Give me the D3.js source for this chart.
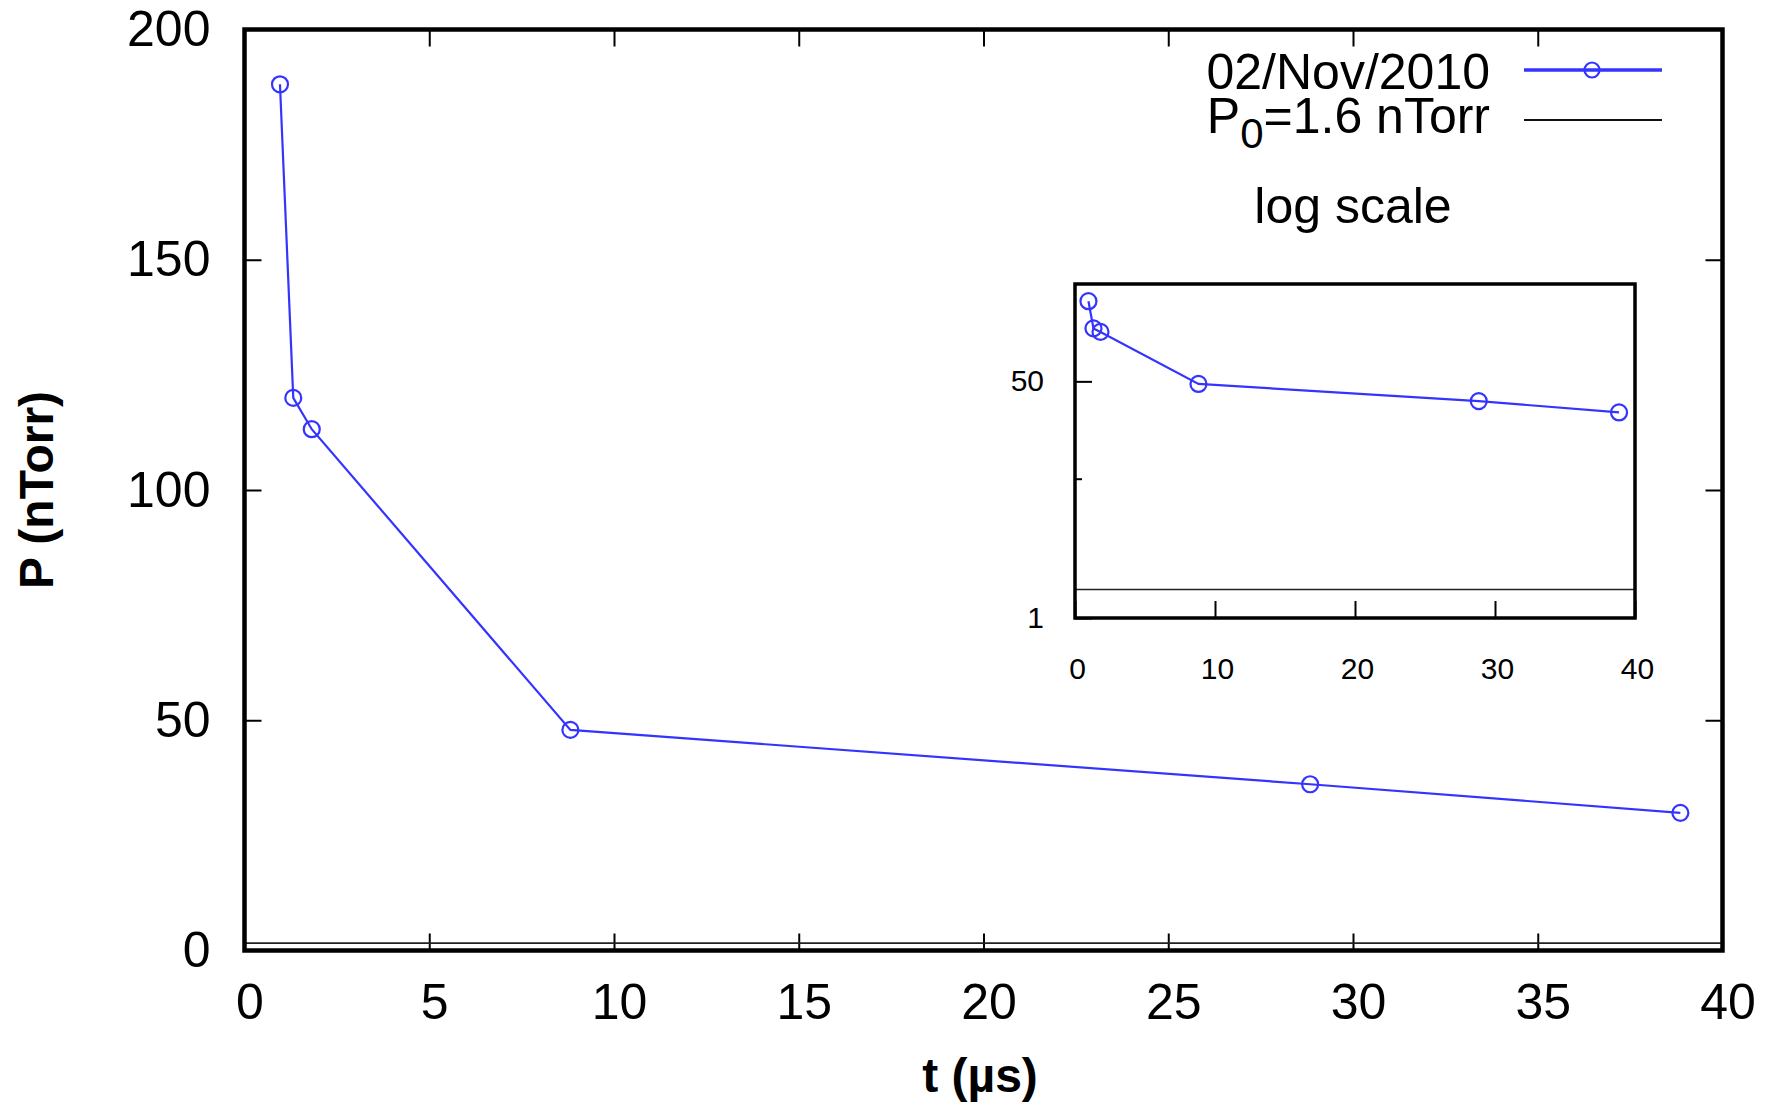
<!DOCTYPE html>
<html>
<head>
<meta charset="utf-8">
<script src="https://cdn.jsdelivr.net/npm/d3@7/dist/d3.min.js"></script>
<style>
  html, body { margin: 0; padding: 0; background: #fff; }
  svg { display: block; font-family: "Liberation Sans", Arial, Helvetica, sans-serif; }
  .tick line { stroke: #000; stroke-width: 2px; }
</style>
</head>
<body>
<svg id="chart" width="1777" height="1107"></svg>
<script>
// Pressure decay measurement (02/Nov/2010)
const times = [0.96, 1.32, 1.82, 8.82, 28.84, 38.86];      // t (µs)
const pressures = [188.1, 120.0, 113.2, 47.9, 36.1, 29.9];  // P (nTorr)
const baseP0 = 1.6;                                          // base pressure P0 (nTorr)

const xTicks = [0, 5, 10, 15, 20, 25, 30, 35, 40];
const yTicks = [0, 50, 100, 150, 200];
const insetXTicks = [0, 10, 20, 30, 40];
const insetYTicks = [1, 10, 50];
const insetYLabels = ["1", "", "50"];

const seriesName = "02/Nov/2010";
const blue = "#3434ff";

const points = times.map((t, i) => ({ t, p: pressures[i] }));

const svg = d3.select("#chart");
svg.append("rect").attr("width", 1777).attr("height", 1107).attr("fill", "#fff");

// ---------- main panel ----------
const M = { left: 244.5, right: 1722.5, top: 29.5, bottom: 950.5 };
const x = d3.scaleLinear().domain([0, 40]).range([M.left, M.right]);
const y = d3.scaleLinear().domain([0, 200]).range([M.bottom, M.top]);

const gBottom = svg.append("g").attr("transform", `translate(0,${M.bottom})`)
  .call(d3.axisBottom(x).tickValues(xTicks).tickSize(-17).tickSizeOuter(0).tickPadding(33));
const gLeft = svg.append("g").attr("transform", `translate(${M.left},0)`)
  .call(d3.axisLeft(y).tickValues(yTicks).tickSize(-17).tickSizeOuter(0).tickPadding(34));
svg.append("g").attr("transform", `translate(0,${M.top})`)
  .call(d3.axisTop(x).tickValues(xTicks).tickSize(-17).tickSizeOuter(0).tickFormat(""));
svg.append("g").attr("transform", `translate(${M.right},0)`)
  .call(d3.axisRight(y).tickValues(yTicks).tickSize(-17).tickSizeOuter(0).tickFormat(""));

svg.selectAll(".domain").remove();
[gBottom, gLeft].forEach(g => g.selectAll("text")
  .attr("font-size", 50).attr("fill", "#000")
  .attr("font-family", "Liberation Sans, Arial, sans-serif"));
gBottom.selectAll("text").attr("dx", 5);

// base pressure reference line
svg.append("line")
  .attr("x1", M.left).attr("x2", M.right)
  .attr("y1", y(baseP0)).attr("y2", y(baseP0))
  .attr("stroke", "#222").attr("stroke-width", 1.6);

// series
const line = d3.line().x(d => x(d.t)).y(d => y(d.p));
svg.append("path").datum(points)
  .attr("d", line).attr("fill", "none")
  .attr("stroke", blue).attr("stroke-width", 2.2);
svg.append("g").selectAll("circle").data(points).join("circle")
  .attr("cx", d => x(d.t)).attr("cy", d => y(d.p)).attr("r", 8)
  .attr("fill", "none").attr("stroke", blue).attr("stroke-width", 2.2);

// frame
svg.append("rect")
  .attr("x", M.left).attr("y", M.top)
  .attr("width", M.right - M.left).attr("height", M.bottom - M.top)
  .attr("fill", "none").attr("stroke", "#000").attr("stroke-width", 4.5);

// axis titles
svg.append("text")
  .attr("transform", `translate(53,${(M.top + M.bottom) / 2}) rotate(-90)`)
  .attr("text-anchor", "middle").attr("font-size", 48).attr("font-weight", "bold")
  .text("P (nTorr)");
svg.append("text")
  .attr("x", 980).attr("y", 1092)
  .attr("text-anchor", "middle").attr("font-size", 48).attr("font-weight", "bold")
  .text("t (µs)");

// legend
const legend = svg.append("g");
legend.append("text").attr("x", 1490).attr("y", 89)
  .attr("text-anchor", "end").attr("font-size", 50).text(seriesName);
legend.append("line").attr("x1", 1524).attr("x2", 1662).attr("y1", 70).attr("y2", 70)
  .attr("stroke", blue).attr("stroke-width", 3.5);
legend.append("circle").attr("cx", 1592).attr("cy", 70).attr("r", 7.5)
  .attr("fill", "none").attr("stroke", blue).attr("stroke-width", 2.2);

const p0Text = legend.append("text").attr("x", 1490).attr("y", 133)
  .attr("text-anchor", "end").attr("font-size", 50);
p0Text.append("tspan").text("P");
p0Text.append("tspan").attr("font-size", 42).attr("dy", 15).text("0");
p0Text.append("tspan").attr("dy", -15).text("=" + baseP0 + " nTorr");
legend.append("line").attr("x1", 1524).attr("x2", 1662).attr("y1", 120).attr("y2", 120)
  .attr("stroke", "#111").attr("stroke-width", 2);

svg.append("text").attr("x", 1353).attr("y", 223)
  .attr("text-anchor", "middle").attr("font-size", 50).text("log scale");

// ---------- inset (log scale) ----------
const I = { left: 1075, right: 1635, top: 284, bottom: 618 };
const xi = d3.scaleLinear().domain([0, 40]).range([I.left, I.right]);
const yi = d3.scaleLog().domain([1, 250]).range([I.bottom, I.top]);

const giBottom = svg.append("g").attr("transform", `translate(0,${I.bottom})`)
  .call(d3.axisBottom(xi).tickValues(insetXTicks).tickSize(-17).tickSizeOuter(0).tickPadding(40));
const giLeft = svg.append("g").attr("transform", `translate(${I.left},0)`)
  .call(d3.axisLeft(yi).tickValues(insetYTicks).tickSize(-17).tickSizeOuter(0).tickPadding(31)
    .tickFormat((d, i) => insetYLabels[i]));
giLeft.selectAll(".tick").filter(d => d === 10).select("line").attr("x2", 7);
giBottom.selectAll(".domain").remove();
giLeft.selectAll(".domain").remove();
[giBottom, giLeft].forEach(g => g.selectAll("text")
  .attr("font-size", 30).attr("fill", "#000")
  .attr("font-family", "Liberation Sans, Arial, sans-serif"));
giBottom.selectAll("text").attr("dx", 2);

svg.append("line")
  .attr("x1", I.left).attr("x2", I.right)
  .attr("y1", yi(baseP0)).attr("y2", yi(baseP0))
  .attr("stroke", "#222").attr("stroke-width", 1.6);

const lineI = d3.line().x(d => xi(d.t)).y(d => yi(d.p));
svg.append("path").datum(points)
  .attr("d", lineI).attr("fill", "none")
  .attr("stroke", blue).attr("stroke-width", 2.2);
svg.append("g").selectAll("circle").data(points).join("circle")
  .attr("cx", d => xi(d.t)).attr("cy", d => yi(d.p)).attr("r", 8)
  .attr("fill", "none").attr("stroke", blue).attr("stroke-width", 2.2);

svg.append("rect")
  .attr("x", I.left).attr("y", I.top)
  .attr("width", I.right - I.left).attr("height", I.bottom - I.top)
  .attr("fill", "none").attr("stroke", "#000").attr("stroke-width", 3.5);
</script>
</body>
</html>
